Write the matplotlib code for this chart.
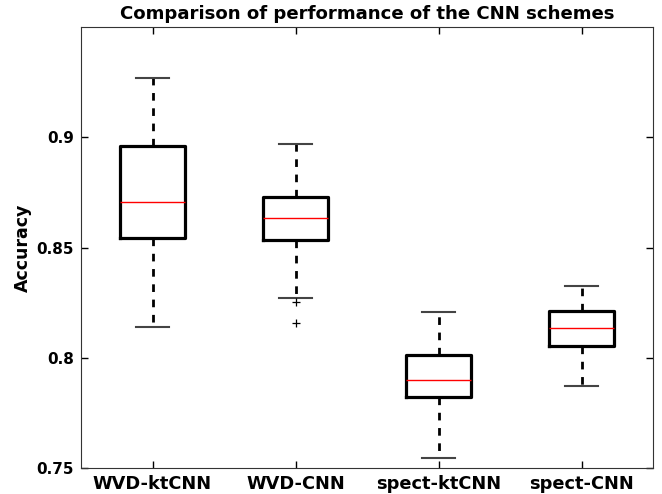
import matplotlib
matplotlib.use('Agg')
import matplotlib.pyplot as plt

# accuracy statistics
labels = ['WVD-ktCNN', 'WVD-CNN', 'spect-ktCNN', 'spect-CNN']
whislo = [0.8141, 0.8273, 0.7545, 0.7873]
q1 = [0.8541, 0.8536, 0.7823, 0.8055]
med = [0.8705, 0.8636, 0.7900, 0.8136]
q3 = [0.8959, 0.8727, 0.8014, 0.8214]
whishi = [0.9268, 0.8968, 0.8209, 0.8327]
fliers = [[], [0.8255, 0.8159], [], []]

stats = []
for i in range(len(labels)):
    stats.append({'label': labels[i], 'whislo': whislo[i], 'q1': q1[i], 'med': med[i],
                  'q3': q3[i], 'whishi': whishi[i], 'fliers': fliers[i]})

plt.rcParams['font.family'] = 'DejaVu Sans'
plt.rcParams['font.weight'] = 'bold'
plt.rcParams['lines.scale_dashes'] = False

fig = plt.figure(figsize=(6.62, 4.94), dpi=100)
ax = fig.add_axes([0.1224, 0.0526, 0.8640, 0.8927])

ax.bxp(stats, widths=0.46,
       boxprops=dict(color='black', linewidth=2.3),
       whiskerprops=dict(color='black', linewidth=2.0, linestyle=(0, (5.5, 5.5))),
       capprops=dict(color='#444444', linewidth=1.5),
       medianprops=dict(color='red', linewidth=1),
       flierprops=dict(marker='+', markeredgecolor='black', markersize=6,
                       markeredgewidth=0.9, linestyle='none'))

ax.set_xlim(0.5, 4.5)
ax.set_ylim(0.75, 0.95)
ax.set_yticks([0.75, 0.8, 0.85, 0.9])
ax.set_yticklabels(['0.75', '0.8', '0.85', '0.9'])
ax.tick_params(direction='in', top=True, right=True, length=5, width=1)
ax.tick_params(axis='x', labelsize=12.8, pad=5)
ax.tick_params(axis='y', labelsize=11, pad=5)
for lab in ax.get_xticklabels() + ax.get_yticklabels():
    lab.set_fontweight('bold')
for sp in ax.spines.values():
    sp.set_color('#333333')

ax.set_ylabel('Accuracy', fontsize=12.5, fontweight='bold', labelpad=3)
ax.set_title('Comparison of performance of the CNN schemes', fontsize=13.1, fontweight='bold', pad=6)

fig.savefig('out.png', dpi=100)
